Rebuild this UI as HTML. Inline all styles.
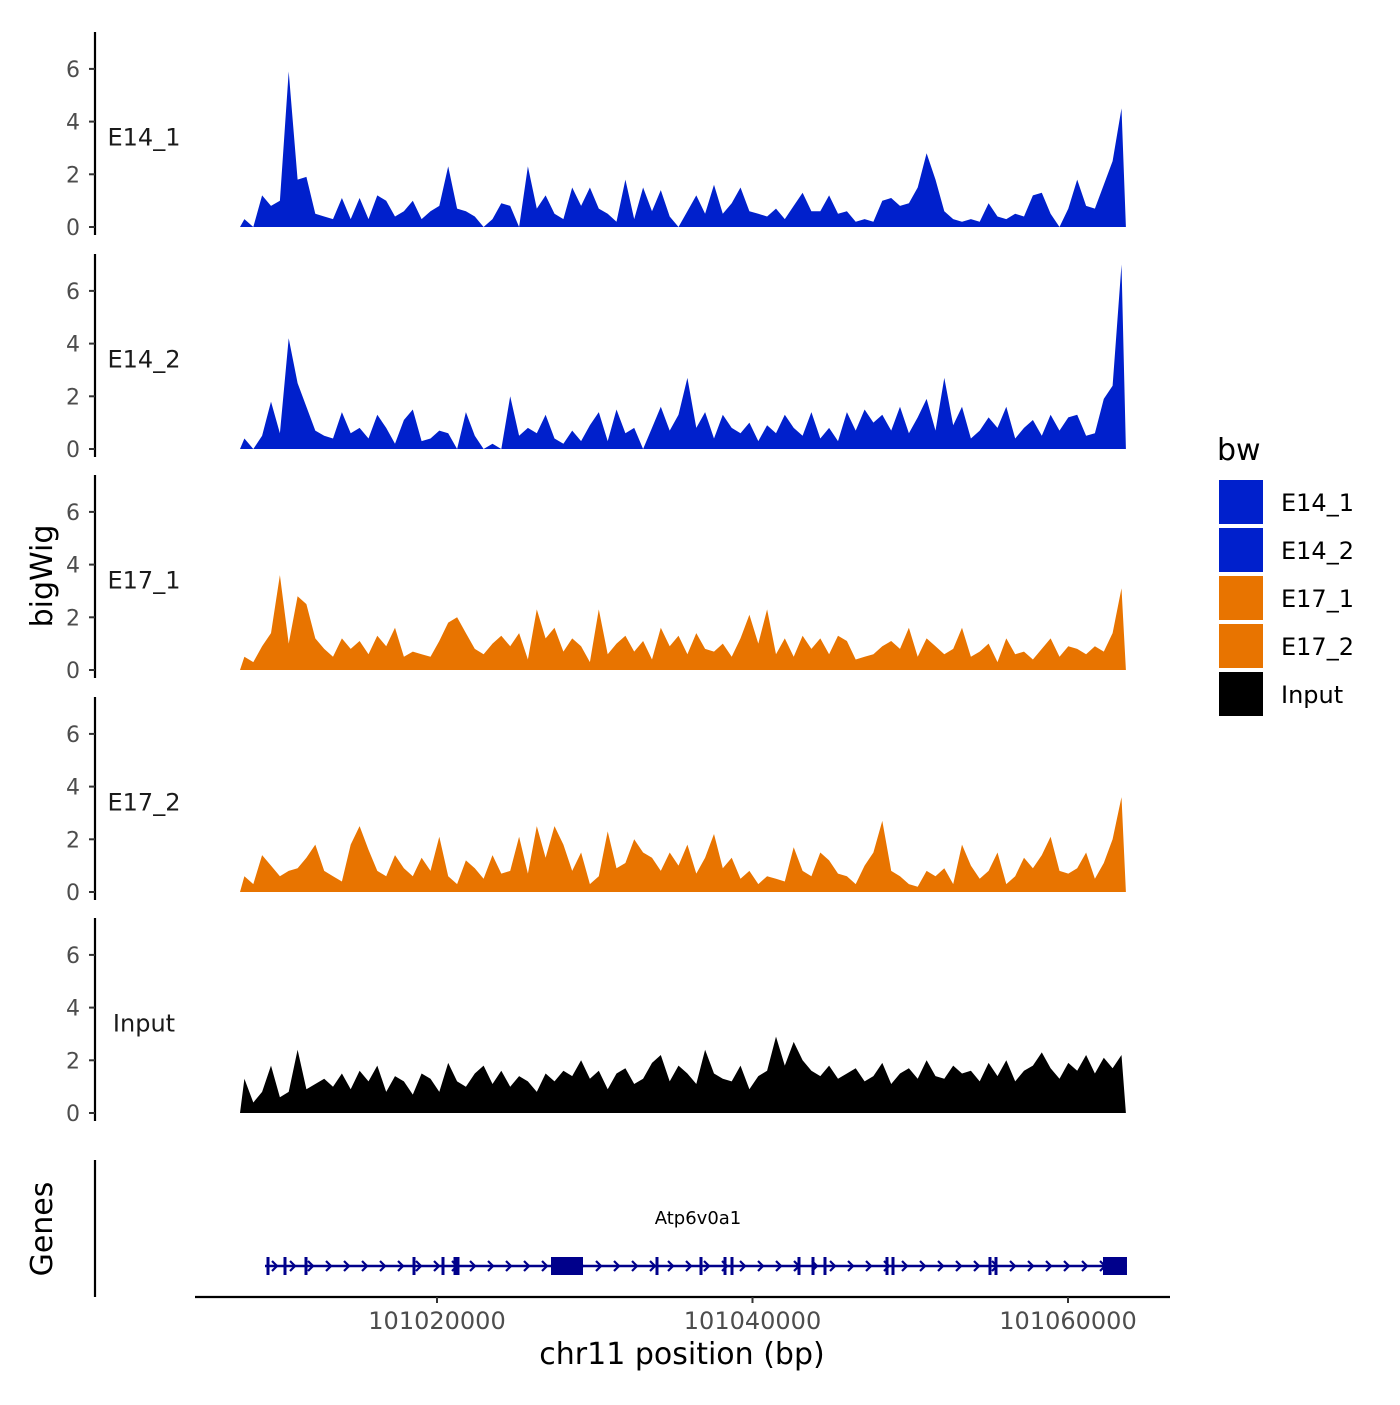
<!DOCTYPE html>
<html><head><meta charset="utf-8"><style>
body{margin:0;background:#fff}
svg{font-family:"DejaVu Sans","Liberation Sans",sans-serif}
</style></head><body>
<svg id="chart" width="1400" height="1400" viewBox="0 0 1400 1400"></svg>
<script>
// ---- data ----
const trackNames = ["E14_1","E14_2","E17_1","E17_2","Input"];
const trackColors = ["#0020CC","#0020CC","#E87400","#E87400","#000000"];
const signalStartBp = 101007512;
const binWidthBp = 561.6;
const yTicks = [0,2,4,6];
const xTicks = [101020000,101040000,101060000];
const xTickLabels = ["101020000","101040000","101060000"];
const e14_1 = [0.3,0,1.2,0.8,1.0,5.9,1.8,1.9,0.5,0.4, 0.3,1.1,0.3,1.1,0.3,1.2,1.0,0.4,0.6,1.0, 0.3,0.6,0.8,2.3,0.7,0.6,0.4,0,0.3,0.9, 0.8,0,2.3,0.7,1.2,0.5,0.3,1.5,0.8,1.5, 0.7,0.5,0.2,1.8,0.3,1.5,0.6,1.4,0.4,0, 0.6,1.2,0.5,1.6,0.5,0.9,1.5,0.6,0.5,0.4, 0.7,0.3,0.8,1.3,0.6,0.6,1.2,0.5,0.6,0.2, 0.3,0.2,1.0,1.1,0.8,0.9,1.5,2.8,1.8,0.6, 0.3,0.2,0.3,0.2,0.9,0.4,0.3,0.5,0.4,1.2, 1.3,0.5,0,0.7,1.8,0.8,0.7,1.6,2.5,4.5];
const e14_2 = [0.4,0,0.5,1.8,0.6,4.2,2.5,1.6,0.7,0.5, 0.4,1.4,0.6,0.8,0.4,1.3,0.8,0.2,1.1,1.5, 0.3,0.4,0.7,0.6,0,1.4,0.5,0,0.2,0, 2.0,0.5,0.8,0.6,1.3,0.4,0.2,0.7,0.3,0.9, 1.4,0.3,1.5,0.6,0.8,0,0.8,1.6,0.7,1.3, 2.7,0.8,1.4,0.4,1.3,0.8,0.6,1.0,0.3,0.9, 0.6,1.3,0.8,0.5,1.4,0.4,0.8,0.3,1.4,0.7, 1.5,1.0,1.3,0.7,1.6,0.6,1.2,1.9,0.7,2.7, 0.9,1.6,0.4,0.7,1.2,0.8,1.6,0.4,0.8,1.1, 0.5,1.3,0.7,1.2,1.3,0.5,0.6,1.9,2.4,7.0];
const e17_1 = [0.5,0.3,0.9,1.4,3.6,1.0,2.8,2.5,1.2,0.8, 0.5,1.2,0.8,1.1,0.6,1.3,0.9,1.6,0.5,0.7, 0.6,0.5,1.1,1.8,2.0,1.4,0.8,0.6,1.0,1.3, 0.9,1.4,0.4,2.3,1.2,1.6,0.7,1.2,0.9,0.3, 2.3,0.6,1.0,1.3,0.7,1.1,0.4,1.6,0.9,1.3, 0.6,1.4,0.8,0.7,1.0,0.5,1.2,2.1,1.0,2.3, 0.6,1.2,0.5,1.3,0.8,1.2,0.6,1.3,1.1,0.4, 0.5,0.6,0.9,1.1,0.8,1.6,0.5,1.2,0.9,0.6, 0.8,1.6,0.5,0.7,1.0,0.3,1.2,0.6,0.7,0.4, 0.8,1.2,0.5,0.9,0.8,0.6,0.9,0.7,1.4,3.1];
const e17_2 = [0.6,0.3,1.4,1.0,0.6,0.8,0.9,1.3,1.8,0.8, 0.6,0.4,1.8,2.5,1.6,0.8,0.6,1.4,0.9,0.6, 1.3,0.8,2.1,0.6,0.3,1.2,0.9,0.5,1.4,0.7, 0.8,2.1,0.7,2.5,1.3,2.5,1.8,0.8,1.5,0.3, 0.6,2.3,0.9,1.1,2.0,1.5,1.3,0.8,1.5,1.0, 1.8,0.7,1.3,2.2,0.9,1.3,0.5,0.8,0.3,0.6, 0.5,0.4,1.7,0.8,0.6,1.5,1.2,0.7,0.6,0.3, 1.0,1.5,2.7,0.8,0.6,0.3,0.2,0.8,0.6,0.9, 0.3,1.8,1.0,0.5,0.8,1.5,0.3,0.6,1.3,0.9, 1.4,2.1,0.8,0.7,0.9,1.5,0.5,1.1,2.0,3.6];
const inputSig = [1.3,0.4,0.8,1.8,0.6,0.8,2.4,0.9,1.1,1.3, 1.0,1.5,0.9,1.6,1.2,1.8,0.8,1.4,1.2,0.7, 1.5,1.3,0.8,1.9,1.2,1.0,1.5,1.8,1.1,1.6, 1.0,1.4,1.2,0.8,1.5,1.2,1.6,1.4,2.0,1.3, 1.6,0.9,1.5,1.7,1.1,1.3,1.9,2.2,1.2,1.8, 1.5,1.1,2.4,1.5,1.3,1.2,1.8,0.9,1.4,1.6, 2.9,1.8,2.7,2.0,1.6,1.4,1.8,1.3,1.5,1.7, 1.2,1.4,1.9,1.1,1.5,1.7,1.3,2.0,1.4,1.3, 1.8,1.5,1.6,1.2,1.9,1.4,2.0,1.2,1.6,1.8, 2.3,1.7,1.3,1.9,1.6,2.2,1.5,2.1,1.7,2.2];
const geneStart = 101009097, geneEnd = 101063739;
const thinExons = [101009287,101010364,101011696,101018542,101020380,101021141,101021331,101033946,101036735,101038257,101038700,101042947,101043835,101044595,101048526,101048906,101055054,101055435];
const bigExonStarts = [101027227,101062218];
const bigExonEnds = [101029255,101063739];

// ---- scales ----
const NS="http://www.w3.org/2000/svg";
const svg=document.getElementById('chart');
function xs(bp){return 437+(bp-101020000)*315.5/20000;}
const zeroY=[227,449,670,892,1113];
function ys(k,v){return zeroY[k]-v*26.35;}
function mk(tag,attrs,parent){const e=document.createElementNS(NS,tag);for(const a in attrs)e.setAttribute(a,attrs[a]);(parent||svg).appendChild(e);return e;}
function txt(s,attrs){const t=mk('text',attrs);t.textContent=s;return t;}

const series=[e14_1,e14_2,e17_1,e17_2,inputSig];
for(let k=0;k<5;k++){
  const g=mk('g',{});
  
  
  const vals=series[k];
  let d='M'+xs(signalStartBp)+','+zeroY[k];
  for(let i=0;i<vals.length;i++){
    const x=xs(signalStartBp+(i+0.5)*binWidthBp);
    d+=' L'+x.toFixed(1)+','+ys(k,vals[i]).toFixed(1);
  }
  d+=' L'+xs(signalStartBp+vals.length*binWidthBp).toFixed(1)+','+zeroY[k]+' Z';
  const p=mk('path',{d:d,fill:trackColors[k]},g);
  
  
  const ax=mk('line',{x1:95,x2:95,y1:zeroY[k]-195,y2:zeroY[k]+8,stroke:'#000','stroke-width':2.2});
  
  
  yTicks.forEach(v=>{
    mk('line',{x1:89,x2:95,y1:ys(k,v),y2:ys(k,v),stroke:'#333','stroke-width':2});
    const t=txt(String(v),{x:80,y:ys(k,v)+8,'text-anchor':'end','font-size':22,fill:'#4d4d4d'});
    
    
  });
  const lb=txt(trackNames[k],{x:144,y:ys(k,3.4)+8,'text-anchor':'middle','font-size':24,fill:'#1a1a1a'});
  
  
}
// genes panel
const ga=mk('line',{x1:95,x2:95,y1:1160,y2:1297,stroke:'#000','stroke-width':2.2});


const gy=1266,gc='#00008B';
const gl=mk('line',{x1:xs(geneStart),x2:xs(geneEnd),y1:gy,y2:gy,stroke:gc,'stroke-width':2.5});


for(let x=xs(geneStart)+10;x<xs(geneEnd)-6;x+=18){
  mk('path',{d:`M${x-3},${gy-5} L${x+2},${gy} L${x-3},${gy+5}`,fill:'none',stroke:gc,'stroke-width':2.2});
}
thinExons.forEach(b=>{
  const e=mk('rect',{x:xs(b)-1.5,y:gy-9,width:3,height:18,fill:gc});
  
  
});
bigExonStarts.forEach((b,i)=>{
  const e=mk('rect',{x:xs(b),y:gy-9,width:xs(bigExonEnds[i])-xs(b),height:18,fill:gc});
  
  
});
const gn=txt('Atp6v0a1',{x:698,y:1224,'text-anchor':'middle','font-size':18,fill:'#000'});


// x axis
const xa=mk('line',{x1:195,x2:1170,y1:1297,y2:1297,stroke:'#000','stroke-width':2.2});


xTicks.forEach((b,i)=>{
  mk('line',{x1:xs(b),x2:xs(b),y1:1297,y2:1303,stroke:'#333','stroke-width':2});
  const t=txt(xTickLabels[i],{x:xs(b),y:1329,'text-anchor':'middle','font-size':24,fill:'#4d4d4d'});
  
  
});
const xt=txt('chr11 position (bp)',{x:682,y:1364,'text-anchor':'middle','font-size':30,fill:'#000'});


const yt=txt('bigWig',{x:0,y:0,'text-anchor':'middle','font-size':30,fill:'#000',transform:'translate(52,576) rotate(-90)'});


const gt=txt('Genes',{x:0,y:0,'text-anchor':'middle','font-size':30,fill:'#000',transform:'translate(52,1229) rotate(-90)'});


// legend
const lt=txt('bw',{x:1217,y:460,'font-size':30,fill:'#000'});


trackNames.forEach((n,i)=>{
  const y=480+i*48;
  const r=mk('rect',{x:1219,y:y,width:44,height:44,fill:trackColors[i]});
  
  
  const t=txt(n,{x:1281,y:y+31,'font-size':24,fill:'#000'});
  
  
});
</script>
</body></html>
